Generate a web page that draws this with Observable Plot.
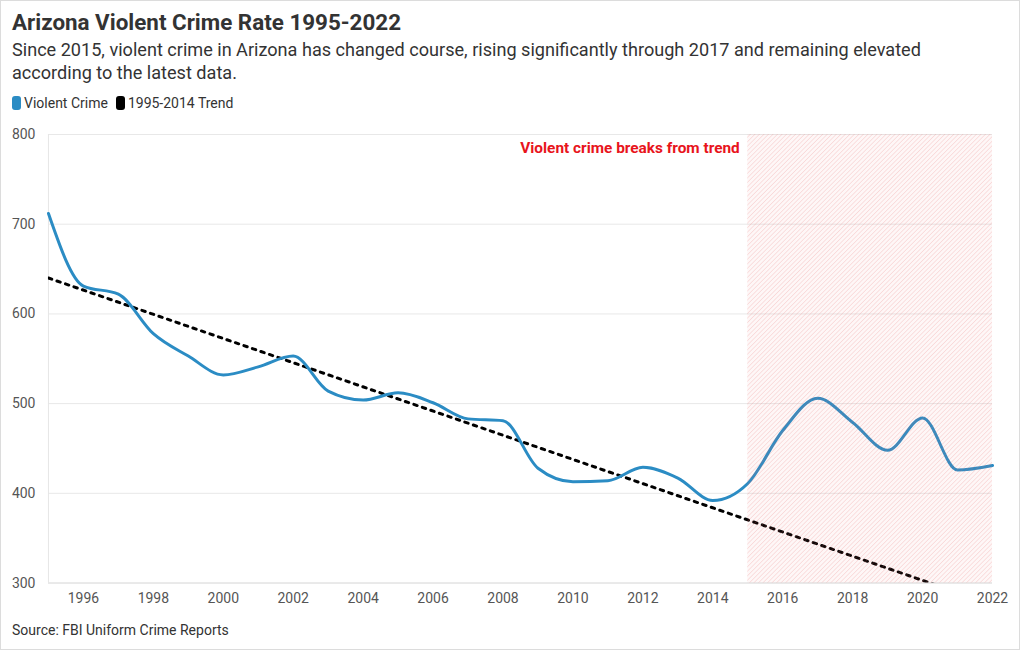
<!DOCTYPE html>
<html>
<head>
<meta charset="utf-8">
<script src="https://cdn.jsdelivr.net/npm/d3@7"></script>
<script src="https://cdn.jsdelivr.net/npm/@observablehq/plot@0.6"></script>
<style>
  html, body { margin: 0; padding: 0; background: #fff; }
  #wrap { position: relative; width: 1018px; height: 648px; border: 1px solid #dcdcdc; overflow: hidden; font-family: Roboto, sans-serif; }
  #title { position: absolute; left: 11px; top: 8px; margin: 0; font-size: 22.4px; font-weight: 700; color: #333; white-space: nowrap; }
  #subtitle { position: absolute; left: 11px; top: 37px; margin: 0; font-size: 18.1px; line-height: 23px; color: #333; white-space: nowrap; }
  #legend { position: absolute; left: 11px; top: 94px; font-size: 14px; color: #333; display: flex; align-items: center; }
  .sw { display: inline-block; width: 9px; height: 14px; border-radius: 3px; margin-right: 3px; }
  .item { display: flex; align-items: center; margin-right: 8px; }
  #chart { position: absolute; left: -1px; top: 119px; }
  #source { position: absolute; left: 11px; top: 621px; font-size: 14px; color: #333; }
</style>
</head>
<body>
<div id="wrap">
  <div id="title">Arizona Violent Crime Rate 1995-2022</div>
  <div id="subtitle">Since 2015, violent crime in Arizona has changed course, rising significantly through 2017 and remaining elevated<br>according to the latest data.</div>
  <div id="legend">
    <span class="item"><span class="sw" style="background:#2b8cc4"></span>Violent Crime</span>
    <span class="item"><span class="sw" style="background:#000"></span>1995-2014 Trend</span>
  </div>
  <div id="chart"></div>
  <div id="source">Source: FBI Uniform Crime Reports</div>
</div>
<script>
const years = [1995,1996,1997,1998,1999,2000,2001,2002,2003,2004,2005,2006,2007,2008,2009,2010,2011,2012,2013,2014,2015,2016,2017,2018,2019,2020,2021,2022];
const violentCrime = [712,631,622,578,553,532,541,553,514,504,512,501,483,481,428,413,414,429,417,392,411,470,506,479,448,484,426,431];
const trendYears = [1995, 2022];
const trendValues = [640, 276];
const xTicks = [1996,1998,2000,2002,2004,2006,2008,2010,2012,2014,2016,2018,2020,2022];
const yTicks = [300,400,500,600,700,800];
const breakStart = 2015, breakEnd = 2022;
const annotation = "Violent crime breaks from trend";

const crime = years.map((y, i) => ({year: y, value: violentCrime[i]}));
const trend = trendYears.map((y, i) => ({year: y, value: trendValues[i]}));

const chart = Plot.plot({
  width: 1020,
  height: 493,
  marginLeft: 48,
  marginRight: 27,
  marginTop: 14,
  marginBottom: 30,
  style: {fontFamily: "Roboto, sans-serif", fontSize: "14px", color: "#555", background: "transparent"},
  x: {domain: [1995, 2022]},
  y: {domain: [300, 800]},
  marks: [
    Plot.gridY(yTicks, {stroke: "#e8e8e8", strokeOpacity: 1}),
    Plot.ruleX([1995], {stroke: "#e6e6e6", strokeOpacity: 1}),
    Plot.ruleY([300], {stroke: "#e0e0e0", strokeOpacity: 1}),
    Plot.axisY(yTicks, {tickSize: 0, tickPadding: 13, fill: "#555", fontSize: 14}),
    Plot.axisX(xTicks, {tickSize: 0, tickPadding: 10, tickFormat: d => String(d), fill: "#555", fontSize: 14}),
    Plot.line(trend, {x: "year", y: "value", stroke: "#000", strokeWidth: 3, strokeDasharray: "3.5,5.5", clip: true}),
    Plot.line(crime, {x: "year", y: "value", stroke: "#2b8cc4", strokeWidth: 3, curve: "monotone-x"}),
    Plot.rect([{x1: breakStart, x2: breakEnd, y1: 300, y2: 800}], {x1: "x1", x2: "x2", y1: "y1", y2: "y2", fill: "url(#hatchPattern)"}),
    Plot.text([annotation], {x: breakStart, y: 800, text: d => d, dx: -8, dy: 14, textAnchor: "end", fill: "#e8141c", fontWeight: "bold", fontSize: 15.4})
  ]
});

const ns = "http://www.w3.org/2000/svg";
const defs = document.createElementNS(ns, "defs");
const pat = document.createElementNS(ns, "pattern");
pat.setAttribute("id", "hatchPattern");
pat.setAttribute("patternUnits", "userSpaceOnUse");
pat.setAttribute("width", "3.2");
pat.setAttribute("height", "3.2");
pat.setAttribute("patternTransform", "rotate(45)");
const bg = document.createElementNS(ns, "rect");
bg.setAttribute("width", "3.2"); bg.setAttribute("height", "3.2");
bg.setAttribute("fill", "rgba(240,120,120,0.06)");
const ln = document.createElementNS(ns, "line");
ln.setAttribute("x1", "0"); ln.setAttribute("y1", "0");
ln.setAttribute("x2", "0"); ln.setAttribute("y2", "3.2");
ln.setAttribute("stroke", "rgba(230,90,90,0.32)");
ln.setAttribute("stroke-width", "1");
pat.appendChild(bg); pat.appendChild(ln);
defs.appendChild(pat);
chart.insertBefore(defs, chart.firstChild);

document.getElementById("chart").appendChild(chart);
</script>
</body>
</html>
